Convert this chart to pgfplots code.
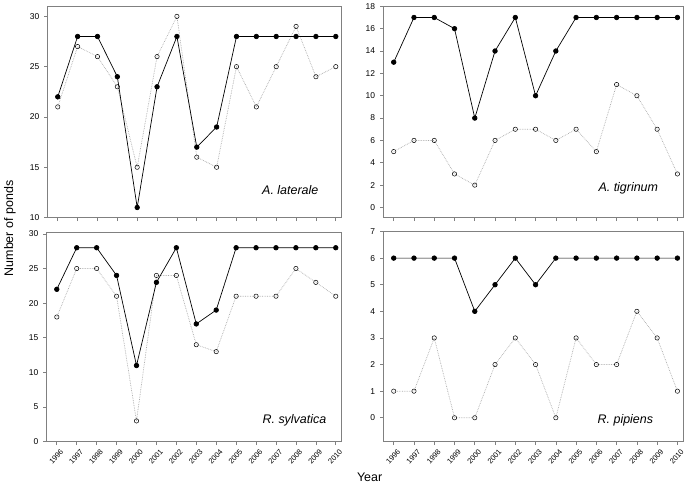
\documentclass[border=0pt]{standalone}
\usepackage{fontspec}
\setmainfont{Liberation Sans}
\usepackage{pgfplots}
\pgfplotsset{compat=1.18}

\definecolor{framegray}{RGB}{128,128,128}
\definecolor{dotgray}{RGB}{170,170,170}

\pgfplotsset{
  panel/.style={
    scale only axis,
    anchor=south west,
    xmin=1995.5, xmax=2010.3,
    xtick={1996,...,2010},
    axis line style={framegray, line width=0.8pt},
    tick style={framegray, line width=0.6pt},
    tick align=outside,
    major tick length=3.5pt,
    xtick pos=bottom, ytick pos=left,
    ticklabel style={font=\fontsize{8.5}{9}\selectfont},
    /pgf/number format/assume math mode=true,
    /pgf/number format/1000 sep={},
    yticklabel style={xshift=-1.5pt},
  },
  nolabels/.style={xticklabels={}},
  yearlabels/.style={
    xticklabel style={rotate=48, anchor=north east, font=\fontsize{7.5}{8}\selectfont, xshift=3pt, yshift=-1pt},
  },
  obs/.style={black, line width=0.7pt, mark=*, mark size=2.3pt, mark options={solid, fill=black}},
  est/.style={dotgray, densely dotted, line width=0.7pt, mark=o, mark size=2.2pt, mark options={solid, black, line width=0.5pt}},
}

\begin{document}
\begin{tikzpicture}
\path (0pt,0pt) rectangle (689pt,494pt);

% A. laterale
\begin{axis}[panel, nolabels, at={(48pt,277pt)}, width=295pt, height=212pt,
  ymin=10, ymax=31, ytick={10,15,20,25,30}]
\addplot[est] coordinates {(1996,21) (1997,27) (1998,26) (1999,23) (2000,15) (2001,26) (2002,30) (2003,16) (2004,15) (2005,25) (2006,21) (2007,25) (2008,29) (2009,24) (2010,25)};
\addplot[obs] coordinates {(1996,22) (1997,28) (1998,28) (1999,24) (2000,11) (2001,23) (2002,28) (2003,17) (2004,19) (2005,28) (2006,28) (2007,28) (2008,28) (2009,28) (2010,28)};
\end{axis}

% A. tigrinum
\begin{axis}[panel, nolabels, at={(385pt,277pt)}, width=301pt, height=212pt,
  ymin=-0.9, ymax=18, ytick={0,2,...,18}]
\addplot[est] coordinates {(1996,5) (1997,6) (1998,6) (1999,3) (2000,2) (2001,6) (2002,7) (2003,7) (2004,6) (2005,7) (2006,5) (2007,11) (2008,10) (2009,7) (2010,3)};
\addplot[obs] coordinates {(1996,13) (1997,17) (1998,17) (1999,16) (2000,8) (2001,14) (2002,17) (2003,10) (2004,14) (2005,17) (2006,17) (2007,17) (2008,17) (2009,17) (2010,17)};
\end{axis}

% R. sylvatica
\begin{axis}[panel, yearlabels, at={(47pt,52pt)}, width=296pt, height=210pt,
  ymin=0, ymax=30.2, ytick={0,5,...,30}]
\addplot[est] coordinates {(1996,18) (1997,25) (1998,25) (1999,21) (2000,3) (2001,24) (2002,24) (2003,14) (2004,13) (2005,21) (2006,21) (2007,21) (2008,25) (2009,23) (2010,21)};
\addplot[obs] coordinates {(1996,22) (1997,28) (1998,28) (1999,24) (2000,11) (2001,23) (2002,28) (2003,17) (2004,19) (2005,28) (2006,28) (2007,28) (2008,28) (2009,28) (2010,28)};
\end{axis}

% R. pipiens
\begin{axis}[panel, yearlabels, at={(385pt,52pt)}, width=301pt, height=211pt,
  ymin=-0.9, ymax=7, ytick={0,...,7}]
\addplot[est] coordinates {(1996,1) (1997,1) (1998,3) (1999,0) (2000,0) (2001,2) (2002,3) (2003,2) (2004,0) (2005,3) (2006,2) (2007,2) (2008,4) (2009,3) (2010,1)};
\addplot[obs] coordinates {(1996,6) (1997,6) (1998,6) (1999,6) (2000,4) (2001,5) (2002,6) (2003,5) (2004,6) (2005,6) (2006,6) (2007,6) (2008,6) (2009,6) (2010,6)};
\end{axis}

\node[anchor=east, font=\fontsize{12.5}{14}\selectfont\itshape] at (323pt,305pt) {A. laterale};
\node[anchor=east, font=\fontsize{12.5}{14}\selectfont\itshape] at (664pt,306pt) {A. tigrinum};
\node[anchor=east, font=\fontsize{12.5}{14}\selectfont\itshape] at (331pt,74pt) {R. sylvatica};
\node[anchor=east, font=\fontsize{12.5}{14}\selectfont\itshape] at (659pt,74pt) {R. pipiens};

\node[rotate=90, font=\fontsize{12.5}{14}\selectfont] at (10pt,266pt) {Number of ponds};
\node[font=\fontsize{12.5}{14}\selectfont] at (371pt,16pt) {Year};
\end{tikzpicture}
\end{document}
